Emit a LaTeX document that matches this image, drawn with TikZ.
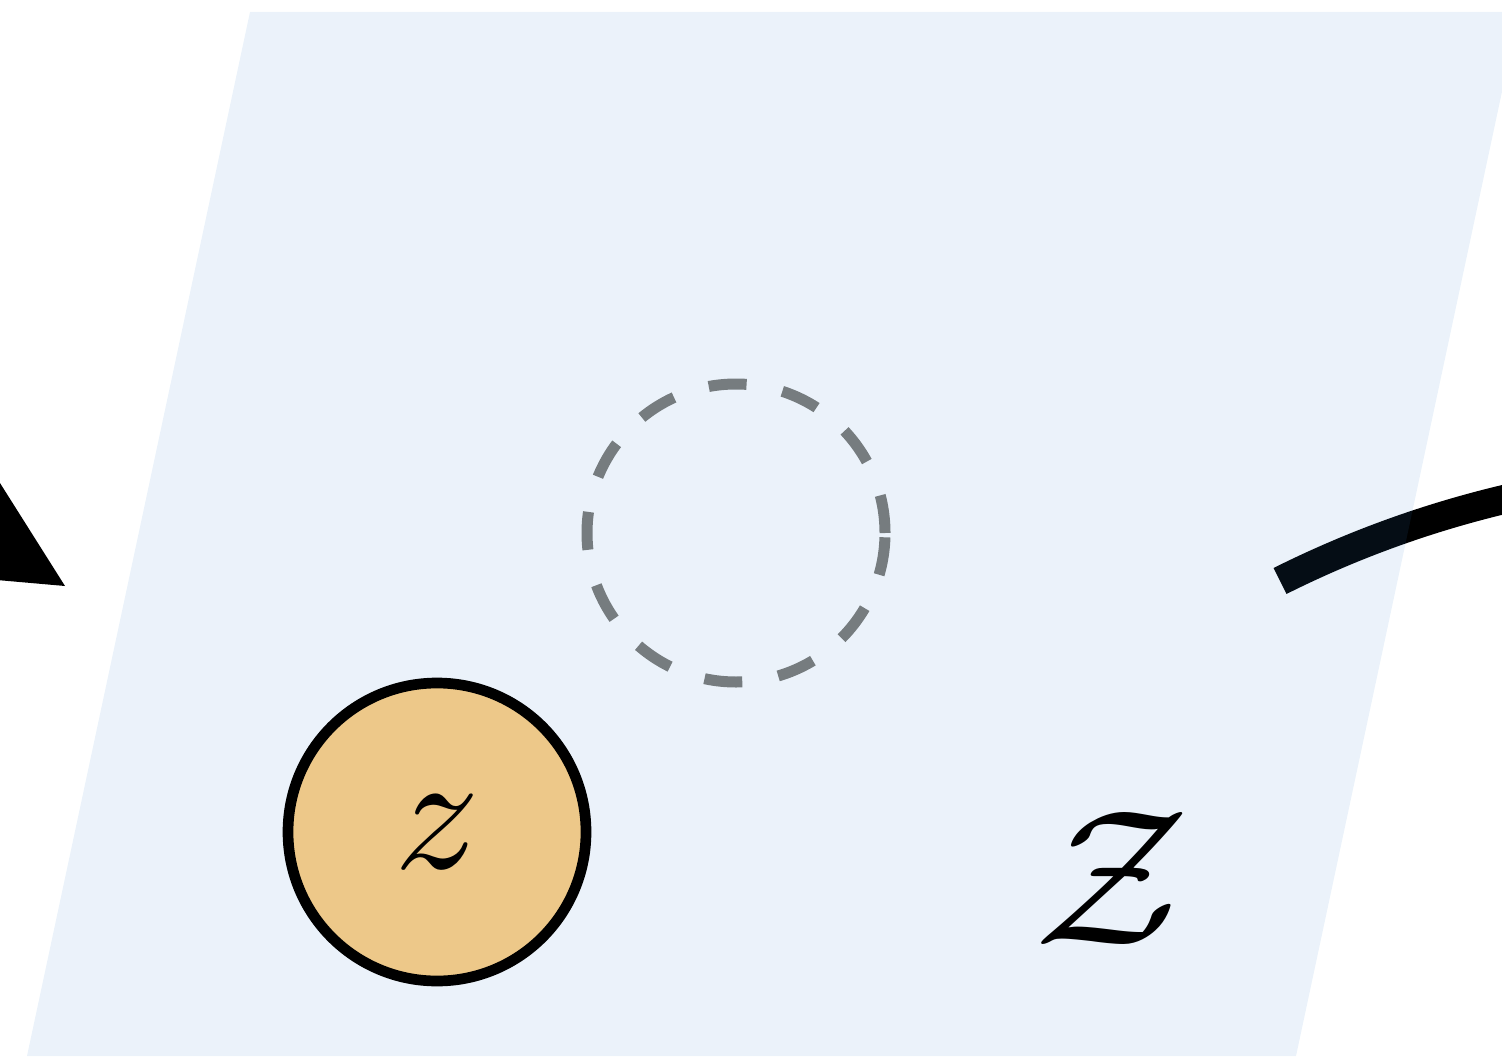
\documentclass[tikz,border=0pt]{standalone}
\usetikzlibrary{positioning}
\definecolor{planeblue}{RGB}{57,132,207}
\definecolor{latentorange}{RGB}{237,200,137}
\definecolor{ghostgray}{RGB}{118,124,127}

\begin{document}
\begin{tikzpicture}[
    latent/.style={circle, draw, line width=1.07mm, fill=latentorange, minimum size=2.98cm, inner sep=0pt},
    ghost/.style={circle, draw=ghostgray, line width=1.1mm, dash pattern=on 3.8mm off 3.65mm, minimum size=2.98cm, inner sep=0pt}
]
    \useasboundingbox (0,0) rectangle (15.02,10.56);
    \clip (0,0) rectangle (15.02,10.56);

    % arrow tip coming in from the left
    \fill (0.65,4.70) -- (-0.6,6.68) -- (-0.6,4.81) -- cycle;

    % thick curve leaving to the right
    \coordinate (curvestart) at (12.80,4.75);
    \draw[line width=2.9mm] (curvestart) arc[start angle=116.6, end angle=95, radius=10.36cm];

    % the plane
    \fill[planeblue, opacity=0.1] (0.27,0) -- (12.96,0) -- (15.19,10.44) -- (2.50,10.44) -- cycle;

    % empty (dashed) and filled latent
    \node[ghost] (zempty) at (7.36,5.23) {};
    \node[latent] (zsample) at (4.37,2.24) {\scalebox{4.8}{$z$}};

    % name of the space
    \node (zspace) at (11.12,1.78) {\scalebox{5.5}{$\mathcal{Z}$}};
\end{tikzpicture}
\end{document}
